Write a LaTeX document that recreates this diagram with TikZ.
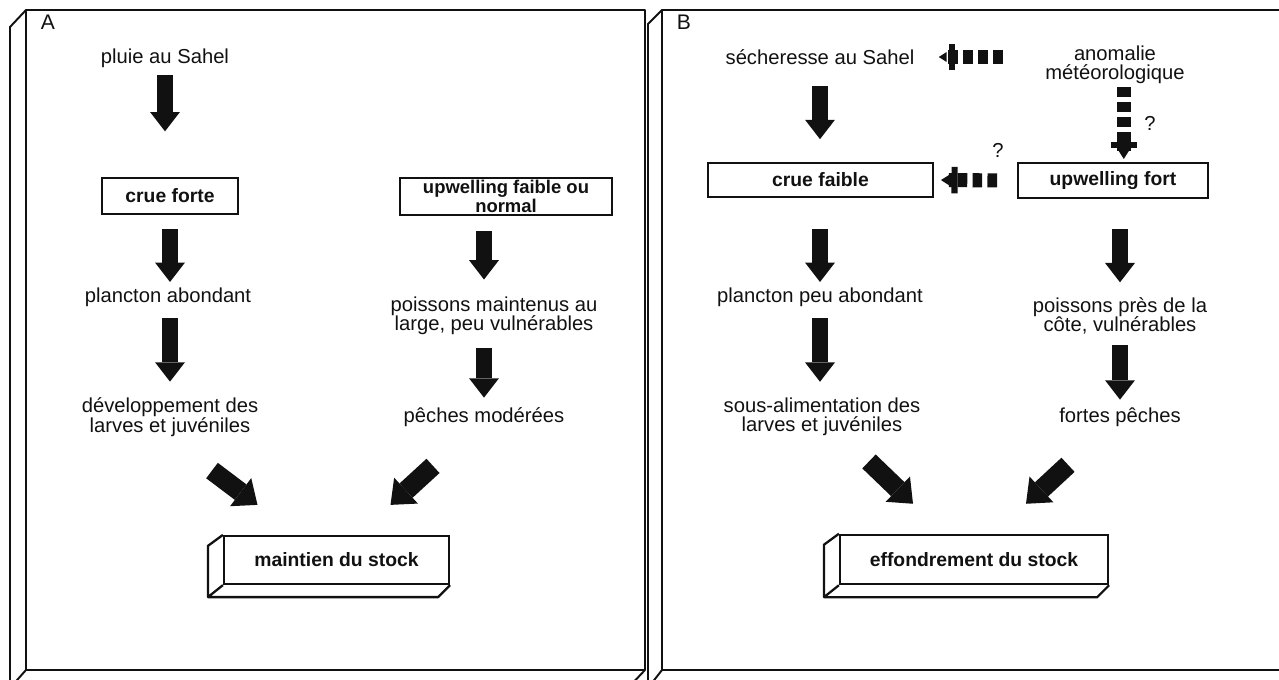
\documentclass[tikz,border=0pt]{standalone}
\usepackage{fontspec}
\setmainfont{Liberation Sans}
\usetikzlibrary{arrows.meta,positioning,calc}
\definecolor{INK}{HTML}{111111}

\tikzset{
  txt/.style={inner sep=0pt, align=center, font=\fontsize{11.5}{11}\selectfont, text=INK},
  cell/.style={draw=INK, line width=1.1pt, inner sep=0pt, align=center,
               font=\fontsize{11}{10}\selectfont\bfseries, text=INK},
  stockbox/.style={cell, line width=1.3pt, fill=white},
  bigarrow/.style={INK, line width=9pt, -{Triangle[width=17pt,length=11pt,line width=0pt]}},
  diagarrow/.style={INK, line width=11pt, -{Triangle[width=20pt,length=12pt,line width=0pt]}},
  dasharrow/.style={INK, line width=8pt, dash pattern=on 5.5pt off 3pt,
    -{Bar[width=15pt,line width=3.5pt,sep=1.5pt]Triangle[width=5.7pt,length=4.5pt,line width=0pt]}},
  frame/.style={INK, line width=1.1pt, line join=round},
}

\begin{document}
\begin{tikzpicture}[x=0.02cm, y=-0.02cm]
  \useasboundingbox (0,0) rectangle (1279,680);
  \clip (0,0) rectangle (1279,680);

  % panel frames
  \draw[frame] (26,10) rectangle (645,670);
  \draw[frame] (26,10) -- (10,27) -- (10,688) -- (26,670)
               (10,688) -- (628,688) -- (645,670);
  \draw[frame] (662,10) rectangle (1300,670);
  \draw[frame] (662,10) -- (648,24) -- (648,688) -- (662,670)
               (648,688) -- (1290,688);

  % A
  \node[txt, font=\fontsize{12}{12}\selectfont] (panelA) at (48,22) {A};
  \node[txt] (pluie) at (165,58) {pluie au Sahel};
  \node[cell, minimum width=77.4pt, minimum height=20.5pt] (crueforte) at (170,196) {crue forte};
  \node[txt] (plancton) at (168,297) {plancton abondant};
  \node[txt] (larves) at (170,417) {développement des\\larves et juvéniles};
  \node[cell, minimum width=121pt, minimum height=21.5pt, font=\fontsize{10.5}{9.6}\selectfont\bfseries] (upwfaible) at (506,196.5) {upwelling faible ou\\normal};
  \node[txt] (poissons) at (494,316) {poissons maintenus au\\large, peu vulnérables};
  \node[txt] (peches) at (484,417) {pêches modérées};
  \node[stockbox, minimum width=128pt, minimum height=27.3pt] (maintien) at (336.5,560) {maintien du stock};
  \draw[frame, line width=1.3pt] (maintien.north west) -- ++(-15,11) -- ($(maintien.south west)+(-15,12)$)
    -- ($(maintien.south east)+(-12,12)$) -- (maintien.south east)
    ($(maintien.south west)+(-15,12)$) -- (maintien.south west);

  \draw[bigarrow, shorten <=4.3pt, shorten >=26pt] (pluie.south) -- (pluie.south |- crueforte.north);
  \draw[bigarrow, shorten <=8pt, shorten >=3pt] (crueforte.south) -- (crueforte.south |- plancton.north);
  \draw[bigarrow, shorten <=6.5pt, shorten >=9pt] (plancton.south -| crueforte.south) -- (larves.north);
  \draw[bigarrow, shorten <=8.5pt, shorten >=9.7pt] (upwfaible.south -| peches.north) -- (poissons.north -| peches.north);
  \draw[bigarrow, shorten <=7.4pt, shorten >=5.4pt] (poissons.south -| peches.north) -- (peches.north);
  \draw[diagarrow] ([shift={(42,34)}]larves.south) -- ([shift={(-79,-30)}]maintien.north);
  \draw[diagarrow] ([shift={(-51,39)}]peches.south) -- ([shift={(54,-30)}]maintien.north);

  % B
  \node[txt, font=\fontsize{12}{12}\selectfont] (panelB) at (684,22) {B};
  \node[txt] (secheresse) at (820,57) {sécheresse au Sahel};
  \node[txt] (anomalie) at (1115,65) {anomalie\\météorologique};
  \node[cell, minimum width=128pt, minimum height=19.4pt] (cruefaible) at (820.5,180) {crue faible};
  \node[cell, minimum width=108pt, minimum height=20pt] (upwfort) at (1113,180.5) {upwelling fort};
  \node[txt] (planctonpeu) at (820,297) {plancton peu abondant};
  \node[txt] (sousalim) at (822,417) {sous-alimentation des\\larves et juvéniles};
  \node[txt] (poissonscote) at (1120,316) {poissons près de la\\côte, vulnérables};
  \node[txt] (fortes) at (1120,417) {fortes pêches};
  \node[txt] (q1) at (998,150) {?};
  \node[txt] (q2) at (1150,123) {?};
  \node[stockbox, minimum width=152.5pt, minimum height=28pt] (effondrement) at (974,559.5) {effondrement du stock};
  \draw[frame, line width=1.3pt] (effondrement.north west) -- ++(-15,11) -- ($(effondrement.south west)+(-15,12)$)
    -- ($(effondrement.south east)+(-12,12)$) -- (effondrement.south east)
    ($(effondrement.south west)+(-15,12)$) -- (effondrement.south west);

  \draw[dasharrow, shorten <=24pt, shorten >=13.7pt] (secheresse.east -| anomalie.west) -- (secheresse.east);
  \draw[dasharrow, shorten <=1.7pt, shorten >=1.7pt] ([xshift=5pt]anomalie.south) -- ([xshift=5pt]anomalie.south |- upwfort.north);
  \draw[dasharrow, shorten <=11.4pt, shorten >=4pt] (upwfort.west) -- (cruefaible.east);
  \draw[bigarrow, shorten <=12pt, shorten >=13pt] (secheresse.south) -- (secheresse.south |- cruefaible.north);
  \draw[bigarrow, shorten <=17.6pt, shorten >=3pt] (cruefaible.south -| planctonpeu.north) -- (planctonpeu.north);
  \draw[bigarrow, shorten <=6.5pt, shorten >=9pt] (planctonpeu.south) -- (planctonpeu.south |- sousalim.north);
  \draw[bigarrow, shorten <=17pt, shorten >=8.5pt] (upwfort.south -| poissonscote.north) -- (poissonscote.north);
  \draw[bigarrow, shorten <=5.7pt, shorten >=4.3pt] (poissonscote.south) -- (fortes.north);
  \draw[diagarrow] ([shift={(47,25)}]sousalim.south) -- ([shift={(-61,-30)}]effondrement.north);
  \draw[diagarrow] ([shift={(-52,38)}]fortes.south) -- ([shift={(52,-30)}]effondrement.north);
\end{tikzpicture}
\end{document}
